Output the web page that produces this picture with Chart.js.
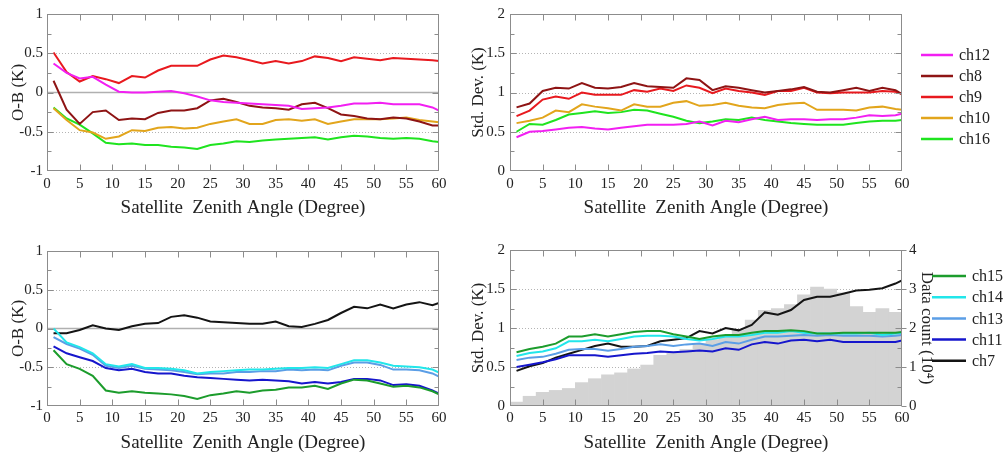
<!DOCTYPE html>
<html><head><meta charset="utf-8">
<script src="https://cdn.jsdelivr.net/npm/chart.js@4.4.0/dist/chart.umd.min.js"></script>
<style>
html,body{margin:0;padding:0;background:#fff;width:1004px;height:456px;overflow:hidden}
canvas{position:absolute}
</style></head><body>
<canvas id="c1" width="460" height="228" style="left:0;top:0"></canvas>
<canvas id="c2" width="544" height="228" style="left:460px;top:0"></canvas>
<canvas id="c3" width="460" height="228" style="left:0;top:228px"></canvas>
<canvas id="c4" width="544" height="228" style="left:460px;top:228px"></canvas>
<script>
// ---------- data ----------
const angles = [1,3,5,7,9,11,13,15,17,19,21,23,25,27,29,31,33,35,37,39,41,43,45,47,49,51,53,55,57,59,60];
const xTicks = [0,5,10,15,20,25,30,35,40,45,50,55,60];

// top-left: O-B (K)
const obCh12 = [0.37,0.25,0.18,0.20,0.10,0.01,0.00,0.00,0.01,0.02,-0.01,-0.05,-0.10,-0.12,-0.13,-0.14,-0.15,-0.16,-0.17,-0.21,-0.20,-0.19,-0.17,-0.14,-0.14,-0.13,-0.15,-0.15,-0.15,-0.19,-0.23];
const obCh8  = [0.15,-0.22,-0.40,-0.25,-0.23,-0.35,-0.33,-0.34,-0.26,-0.23,-0.23,-0.20,-0.10,-0.08,-0.12,-0.17,-0.19,-0.20,-0.22,-0.15,-0.13,-0.20,-0.28,-0.30,-0.33,-0.34,-0.32,-0.33,-0.37,-0.42,-0.42];
const obCh9  = [0.51,0.26,0.14,0.21,0.17,0.12,0.21,0.19,0.28,0.34,0.34,0.34,0.42,0.47,0.45,0.41,0.37,0.40,0.37,0.40,0.46,0.44,0.40,0.45,0.43,0.41,0.44,0.43,0.42,0.41,0.40];
const obCh10 = [-0.20,-0.35,-0.48,-0.51,-0.59,-0.56,-0.48,-0.49,-0.45,-0.44,-0.46,-0.45,-0.40,-0.37,-0.34,-0.40,-0.40,-0.35,-0.34,-0.36,-0.34,-0.40,-0.37,-0.34,-0.34,-0.34,-0.33,-0.32,-0.35,-0.37,-0.38];
const obCh16 = [-0.19,-0.33,-0.41,-0.52,-0.64,-0.66,-0.65,-0.67,-0.67,-0.69,-0.70,-0.72,-0.67,-0.65,-0.62,-0.63,-0.61,-0.60,-0.59,-0.58,-0.57,-0.60,-0.57,-0.55,-0.56,-0.58,-0.59,-0.58,-0.59,-0.62,-0.63];

// top-right: Std. Dev. (K)
const sdCh12 = [0.43,0.50,0.51,0.53,0.55,0.56,0.54,0.53,0.55,0.57,0.59,0.59,0.59,0.60,0.63,0.58,0.64,0.62,0.66,0.69,0.65,0.66,0.66,0.65,0.66,0.66,0.68,0.71,0.70,0.71,0.73];
const sdCh8  = [0.81,0.86,1.02,1.06,1.05,1.12,1.06,1.05,1.07,1.12,1.08,1.07,1.06,1.18,1.16,1.03,1.08,1.06,1.03,1.00,1.02,1.04,1.07,1.01,1.00,1.03,1.06,1.02,1.06,1.03,0.98];
const sdCh9  = [0.70,0.77,0.91,0.95,0.92,1.00,0.97,0.97,0.97,1.03,1.01,1.05,1.02,1.09,1.06,0.99,1.05,1.02,1.00,0.97,1.02,1.02,1.06,1.00,0.99,1.00,1.00,1.00,1.02,1.01,0.98];
const sdCh10 = [0.61,0.64,0.68,0.77,0.75,0.85,0.82,0.80,0.77,0.85,0.82,0.82,0.87,0.89,0.83,0.84,0.87,0.83,0.81,0.80,0.84,0.86,0.87,0.78,0.78,0.78,0.77,0.81,0.82,0.79,0.78];
const sdCh16 = [0.50,0.60,0.59,0.65,0.72,0.74,0.76,0.74,0.75,0.78,0.77,0.73,0.69,0.64,0.61,0.63,0.66,0.65,0.68,0.65,0.63,0.61,0.60,0.59,0.59,0.59,0.61,0.63,0.64,0.64,0.65];

// bottom-left: O-B (K)
const obCh15 = [-0.28,-0.46,-0.52,-0.61,-0.80,-0.83,-0.81,-0.83,-0.84,-0.85,-0.87,-0.91,-0.86,-0.84,-0.81,-0.83,-0.80,-0.79,-0.76,-0.76,-0.74,-0.78,-0.71,-0.66,-0.67,-0.71,-0.75,-0.74,-0.76,-0.81,-0.85];
const obCh14 = [0.00,-0.18,-0.24,-0.32,-0.46,-0.49,-0.46,-0.51,-0.51,-0.52,-0.54,-0.58,-0.56,-0.55,-0.54,-0.53,-0.53,-0.52,-0.51,-0.51,-0.50,-0.51,-0.46,-0.41,-0.41,-0.44,-0.48,-0.49,-0.50,-0.53,-0.57];
const obCh13 = [-0.11,-0.20,-0.26,-0.34,-0.48,-0.51,-0.48,-0.52,-0.53,-0.54,-0.56,-0.59,-0.58,-0.58,-0.56,-0.56,-0.55,-0.55,-0.53,-0.54,-0.53,-0.54,-0.48,-0.44,-0.44,-0.47,-0.53,-0.53,-0.54,-0.58,-0.62];
const obCh11 = [-0.23,-0.32,-0.37,-0.42,-0.51,-0.54,-0.52,-0.56,-0.58,-0.58,-0.61,-0.63,-0.64,-0.65,-0.66,-0.67,-0.66,-0.67,-0.68,-0.71,-0.69,-0.71,-0.69,-0.65,-0.65,-0.67,-0.73,-0.72,-0.74,-0.80,-0.84];
const obCh7  = [-0.06,-0.06,-0.02,0.04,0.00,-0.02,0.03,0.06,0.07,0.15,0.17,0.14,0.09,0.08,0.07,0.06,0.06,0.09,0.03,0.02,0.06,0.11,0.20,0.28,0.26,0.31,0.26,0.31,0.34,0.30,0.33];

// bottom-right: Std. Dev. (K) and data count (10^4)
const sdCh15 = [0.69,0.73,0.76,0.80,0.89,0.89,0.92,0.89,0.92,0.95,0.96,0.96,0.92,0.89,0.86,0.89,0.91,0.91,0.94,0.96,0.96,0.97,0.96,0.93,0.93,0.94,0.94,0.94,0.94,0.94,0.95];
const sdCh14 = [0.64,0.68,0.70,0.74,0.83,0.83,0.85,0.83,0.86,0.89,0.90,0.90,0.89,0.86,0.84,0.86,0.89,0.89,0.91,0.94,0.94,0.96,0.94,0.93,0.93,0.93,0.93,0.94,0.91,0.93,0.94];
const sdCh13 = [0.59,0.62,0.63,0.67,0.72,0.73,0.73,0.71,0.73,0.76,0.77,0.79,0.77,0.79,0.80,0.77,0.82,0.80,0.85,0.89,0.89,0.90,0.91,0.90,0.91,0.90,0.90,0.90,0.89,0.90,0.91];
const sdCh11 = [0.50,0.53,0.56,0.60,0.65,0.65,0.65,0.63,0.65,0.67,0.68,0.70,0.69,0.70,0.71,0.70,0.74,0.72,0.79,0.82,0.80,0.84,0.85,0.83,0.85,0.82,0.82,0.82,0.82,0.82,0.84];
const sdCh7  = [0.45,0.51,0.55,0.62,0.67,0.72,0.77,0.80,0.76,0.76,0.77,0.83,0.85,0.87,0.96,0.93,1.00,0.97,1.04,1.20,1.17,1.23,1.36,1.40,1.40,1.44,1.48,1.49,1.51,1.57,1.61];
const countBins = [1,3,5,7,9,11,13,15,17,19,21,23,25,27,29,31,33,35,37,39,41,43,45,47,49,51,53,55,57,59];
const dataCount = [0.10,0.25,0.35,0.40,0.45,0.60,0.70,0.80,0.85,0.95,1.05,1.30,1.35,1.45,1.60,1.70,1.80,1.95,2.20,2.45,2.50,2.60,2.85,3.05,3.00,2.90,2.55,2.40,2.50,2.40];

// ---------- helpers ----------
const FONT = '"Liberation Serif", "Times New Roman", serif';
const TXT = '#222';
const X_TITLE = 'Satellite  Zenith Angle (Degree)';
const fmt = v => String(+Number(v).toFixed(2));

function series(label, vals, color) {
  return { label, data: angles.map((a, i) => ({ x: a, y: vals[i] })), borderColor: color,
           backgroundColor: color, borderWidth: 2, pointRadius: 0, tension: 0, order: 0 };
}

const framePlugin = {
  id: 'frame',
  beforeDatasetsDraw(chart, args, o) {
    const { ctx, chartArea: a, scales: { y } } = chart;
    ctx.save();
    ctx.beginPath(); ctx.rect(a.left, a.top, a.right - a.left, a.bottom - a.top); ctx.clip();
    ctx.strokeStyle = '#b4b4b4'; ctx.lineWidth = 1; ctx.setLineDash([1, 2]);
    for (const v of o.dotted) {
      const py = Math.round(y.getPixelForValue(v)) + 0.5;
      ctx.beginPath(); ctx.moveTo(a.left, py); ctx.lineTo(a.right, py); ctx.stroke();
    }
    ctx.setLineDash([]);
    if (o.zero) {
      const py = y.getPixelForValue(0);
      ctx.strokeStyle = '#b0b0b0'; ctx.lineWidth = 1.5;
      ctx.beginPath(); ctx.moveTo(a.left, py); ctx.lineTo(a.right, py); ctx.stroke();
    }
    ctx.restore();
  },
  afterDatasetsDraw(chart, args, o) {
    const { ctx, chartArea: a, scales } = chart;
    const x = scales.x, y = scales.y;
    ctx.save();
    ctx.strokeStyle = '#8c8c8c'; ctx.lineWidth = 1;
    const L = Math.round(a.left) + 0.5, R = Math.round(a.right) - 0.5;
    const T = Math.round(a.top) + 0.5, B = Math.round(a.bottom) - 0.5;
    ctx.strokeRect(L, T, R - L, B - T);
    ctx.beginPath();
    for (const v of xTicks) {
      if (v === x.min || v === x.max) continue;
      const px = Math.round(x.getPixelForValue(v)) + 0.5;
      ctx.moveTo(px, B); ctx.lineTo(px, B - 6);
      ctx.moveTo(px, T); ctx.lineTo(px, T + 6);
    }
    const n = Math.round((y.max - y.min) / o.minor);
    for (let i = 1; i < n; i++) {
      const v = y.min + i * o.minor;
      const py = Math.round(y.getPixelForValue(v)) + 0.5;
      const len = (i % 2 === 0) ? 6 : 4;
      ctx.moveTo(L, py); ctx.lineTo(L + len, py);
      ctx.moveTo(R, py); ctx.lineTo(R - len, py);
    }
    if (scales.y2) {
      const y2 = scales.y2;
      for (let v = y2.min; v <= y2.max; v++) {
        const py = Math.round(y2.getPixelForValue(v)) + 0.5;
        ctx.moveTo(R, py); ctx.lineTo(R + 5, py);
      }
    }
    ctx.stroke();
    // legend
    if (o.legend) {
      const g = o.legend;
      const items = chart.data.datasets.filter(d => d.type !== 'bar');
      ctx.font = '16px ' + FONT; ctx.textBaseline = 'middle'; ctx.textAlign = 'left';
      items.forEach((d, i) => {
        const yy = g.y + i * g.dy;
        ctx.strokeStyle = d.borderColor; ctx.lineWidth = 2.5;
        ctx.beginPath(); ctx.moveTo(g.x, yy); ctx.lineTo(g.x + g.len, yy); ctx.stroke();
        ctx.fillStyle = TXT; ctx.fillText(d.label, g.x + g.len + 6, yy + 1);
      });
    }
    ctx.restore();
  }
};

function panel(id, datasets, p) {
  const scales = {
    x: {
      type: 'linear', min: 0, max: 60, offset: false,
      grid: { display: false, drawTicks: false }, border: { display: false },
      ticks: { stepSize: 5, autoSkip: false, maxRotation: 0, padding: p.xPad, color: TXT, font: { family: FONT, size: 15 }, callback: fmt },
      title: { display: true, text: X_TITLE, color: TXT, font: { family: FONT, size: 19 }, padding: { top: 0, bottom: p.xTitlePad } },
      afterFit: s => { s.height = p.xH; }
    },
    y: {
      type: 'linear', min: p.ymin, max: p.ymax, position: 'left',
      grid: { display: false, drawTicks: false }, border: { display: false },
      ticks: { stepSize: 0.5, padding: p.yPad, color: TXT, font: { family: FONT, size: 15 }, callback: fmt },
      title: { display: true, text: p.yTitle, color: TXT, font: { family: FONT, size: 17 }, padding: { top: 8, bottom: 0 } },
      afterFit: s => { s.width = p.yW; }
    }
  };
  if (p.y2) {
    scales.y2 = {
      type: 'linear', min: 0, max: 4, position: 'right',
      grid: { display: false, drawTicks: false }, border: { display: false },
      ticks: { stepSize: 1, padding: 7, color: TXT, font: { family: FONT, size: 15 }, callback: fmt },
      title: { display: true, text: 'Data count (10\u2074)', color: TXT, font: { family: FONT, size: 17 }, padding: { top: 5, bottom: 0 } },
      afterFit: s => { s.width = 40; }
    };
  }
  return new Chart(document.getElementById(id), {
    type: 'line',
    data: { datasets },
    options: {
      responsive: false, animation: false, events: [],
      layout: { padding: p.padding },
      plugins: { legend: { display: false }, tooltip: { enabled: false },
                 frame: { dotted: p.dotted, zero: p.zero, minor: 0.25, legend: p.legend } },
      scales
    },
    plugins: [framePlugin]
  });
}

// ---------- panels ----------
panel('c1', [
  series('ch12', obCh12, '#f21ff2'),
  series('ch8', obCh8, '#8e1414'),
  series('ch9', obCh9, '#e8191e'),
  series('ch10', obCh10, '#e2a51c'),
  series('ch16', obCh16, '#1fe41f')
], { padding: { left: 0, top: 14, right: 21, bottom: 0 }, xH: 57, yW: 47, xPad: 4, yPad: 4, xTitlePad: 8.6,
     ymin: -1, ymax: 1, yTitle: 'O-B (K)', dotted: [0.5, -0.5], zero: true });

panel('c2', [
  series('ch12', sdCh12, '#f21ff2'),
  series('ch8', sdCh8, '#8e1414'),
  series('ch9', sdCh9, '#e8191e'),
  series('ch10', sdCh10, '#e2a51c'),
  series('ch16', sdCh16, '#1fe41f')
], { padding: { left: 0, top: 14, right: 102, bottom: 0 }, xH: 57, yW: 50, xPad: 4, yPad: 5, xTitlePad: 8.6,
     ymin: 0, ymax: 2, yTitle: 'Std. Dev. (K)', dotted: [0.5, 1, 1.5], zero: false,
     legend: { x: 461, y: 55, dy: 21, len: 32 } });

panel('c3', [
  series('ch15', obCh15, '#1c9c2c'),
  series('ch14', obCh14, '#22e6ea'),
  series('ch13', obCh13, '#5b9ee6'),
  series('ch11', obCh11, '#1616cc'),
  series('ch7', obCh7, '#141414')
], { padding: { left: 0, top: 23, right: 21, bottom: 0 }, xH: 50, yW: 47, xPad: 3, yPad: 4, xTitlePad: 1.6,
     ymin: -1, ymax: 1, yTitle: 'O-B (K)', dotted: [0.5, -0.5], zero: true });

panel('c4', [
  series('ch15', sdCh15, '#1c9c2c'),
  series('ch14', sdCh14, '#22e6ea'),
  series('ch13', sdCh13, '#5b9ee6'),
  series('ch11', sdCh11, '#1616cc'),
  series('ch7', sdCh7, '#141414'),
  { type: 'bar', label: 'Data count', yAxisID: 'y2', order: 10,
    data: countBins.map((a, i) => ({ x: a, y: dataCount[i] })),
    backgroundColor: '#d3d3d3', borderWidth: 0, barPercentage: 1, categoryPercentage: 1 }
], { padding: { left: 0, top: 22, right: 62, bottom: 0 }, xH: 50, yW: 50, xPad: 3, yPad: 5, xTitlePad: 1.6,
     ymin: 0, ymax: 2, yTitle: 'Std. Dev. (K)', dotted: [0.5, 1, 1.5], zero: false, y2: true,
     legend: { x: 472, y: 48, dy: 21.2, len: 34 } });
</script>
</body></html>
